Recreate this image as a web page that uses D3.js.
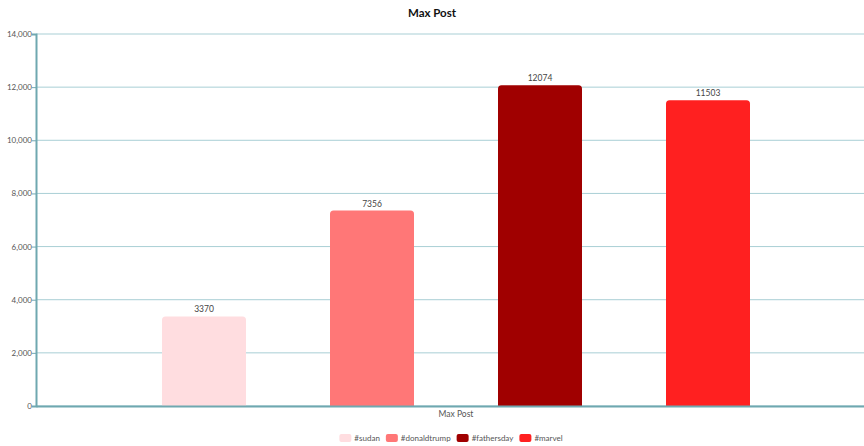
<!DOCTYPE html>
<html>
<head>
<meta charset="utf-8">
<script src="https://cdn.jsdelivr.net/npm/d3@7"></script>
<style>
  html, body { margin: 0; padding: 0; background: #fff; }
  svg { display: block; font-family: "Segoe UI", Lato, "Open Sans", sans-serif; }
</style>
</head>
<body>
<svg id="chart" width="864" height="446"></svg>
<script>
// Chart data
const categories = ["Max Post"];
const seriesNames = ["#sudan", "#donaldtrump", "#fathersday", "#marvel"];
const seriesValues = [3370, 7356, 12074, 11503];
const seriesColors = ["#ffdde0", "#ff7777", "#a00000", "#ff2020"];
const yTicks = [0, 2000, 4000, 6000, 8000, 10000, 12000, 14000];

const W = 864, H = 446;
// plot area runs slightly past the right edge of the canvas
const margin = { top: 34, right: -12, bottom: 40, left: 36 };
const svg = d3.select("#chart");
const FONT = "\"Segoe UI\", Lato, \"Open Sans\", sans-serif";

const x0 = d3.scaleBand()
  .domain(categories)
  .range([margin.left, W - margin.right])
  .paddingInner(0).paddingOuter(0);

const x1 = d3.scaleBand()
  .domain(seriesNames)
  .range([0, x0.bandwidth()])
  .paddingInner(0.5).paddingOuter(0.75);

const y = d3.scaleLinear()
  .domain([0, 14000])
  .range([H - margin.bottom, margin.top]);

// Title
svg.append("text")
  .attr("x", W / 2).attr("y", 17)
  .attr("text-anchor", "middle")
  .attr("font-size", 11.5).attr("font-weight", "bold").attr("fill", "#111")
  .text("Max Post");

// Horizontal grid
svg.append("g")
  .selectAll("line")
  .data(yTicks)
  .join("line")
  .attr("x1", margin.left).attr("x2", W - margin.right)
  .attr("y1", d => y(d)).attr("y2", d => y(d))
  .attr("stroke", "#a9cfd5").attr("stroke-width", 1);

// Y axis
const yAxis = svg.append("g")
  .attr("transform", `translate(${margin.left},0)`)
  .call(d3.axisLeft(y).tickValues(yTicks).tickFormat(d3.format(",")).tickSizeOuter(0).tickSize(4));
yAxis.select(".domain").attr("stroke", "#6fa8b0").attr("stroke-width", 2);
yAxis.selectAll(".tick line").attr("stroke", "#6fa8b0");
yAxis.selectAll(".tick text")
  .attr("font-size", 8).attr("fill", "#555").attr("x", -4)
  .attr("font-family", FONT);

// Bars
const group = svg.append("g")
  .selectAll("g")
  .data(categories)
  .join("g")
  .attr("transform", d => `translate(${x0(d)},0)`);

group.selectAll("path")
  .data(seriesNames.map((n, i) => ({ name: n, value: seriesValues[i], color: seriesColors[i] })))
  .join("path")
  .attr("fill", d => d.color)
  .attr("d", d => {
    const bx = x1(d.name), bw = x1.bandwidth();
    const top = y(d.value), bottom = y(0);
    const r = 3.5;
    return `M${bx},${bottom}V${top + r}Q${bx},${top} ${bx + r},${top}` +
           `H${bx + bw - r}Q${bx + bw},${top} ${bx + bw},${top + r}V${bottom}Z`;
  });

group.selectAll("text")
  .data(seriesNames.map((n, i) => ({ name: n, value: seriesValues[i] })))
  .join("text")
  .attr("x", d => x1(d.name) + x1.bandwidth() / 2)
  .attr("y", d => y(d.value) - 4)
  .attr("text-anchor", "middle")
  .attr("font-size", 8.5).attr("fill", "#444")
  .text(d => d.value);

// X axis
const xAxis = svg.append("g")
  .attr("transform", `translate(0,${y(0)})`)
  .call(d3.axisBottom(x0).tickSize(0).tickPadding(5));
xAxis.select(".domain").attr("stroke", "#6fa8b0").attr("stroke-width", 2);
xAxis.selectAll(".tick text")
  .attr("font-size", 8.5).attr("fill", "#555")
  .attr("font-family", FONT);

// Legend
const legend = svg.append("g");
let lx = 0;
seriesNames.forEach((n, i) => {
  const item = legend.append("g").attr("transform", `translate(${lx},0)`);
  item.append("rect").attr("x", 0).attr("y", -4).attr("width", 12).attr("height", 8)
    .attr("rx", 2).attr("fill", seriesColors[i]);
  const t = item.append("text").attr("x", 15).attr("y", 3)
    .attr("font-size", 8).attr("fill", "#555").text(n);
  lx += 15 + t.node().getComputedTextLength() + 6;
});
const lw = lx - 6;
legend.attr("transform", `translate(${W / 2 + 19 - lw / 2},438)`);
</script>
</body>
</html>
